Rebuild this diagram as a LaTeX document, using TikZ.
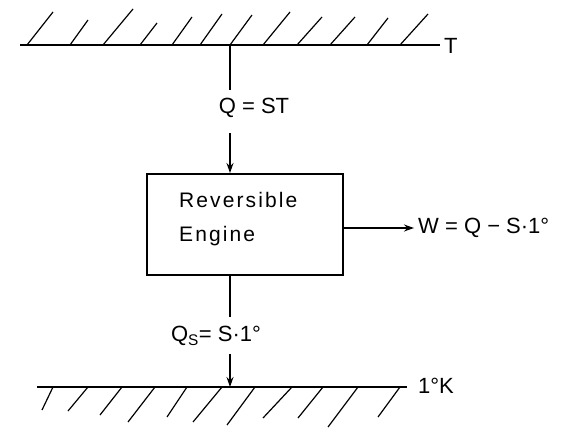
\documentclass[tikz,border=0pt]{standalone}
\usepackage{fontspec}
\setmainfont{Liberation Sans}
\usetikzlibrary{arrows.meta}
\begin{document}
\begin{tikzpicture}[x=1pt,y=-1pt,
  wire/.style={line width=1.6pt},
  hatch/.style={line width=1.2pt},
  arr/.style={line width=1.4pt,-{Stealth[length=10pt,width=7pt]}},
  lbl/.style={font=\fontsize{22}{26}\selectfont,inner sep=0pt},
  boxlbl/.style={font=\fontsize{21}{26}\selectfont\addfontfeatures{LetterSpace=10},inner sep=0pt}]
\useasboundingbox (0,0) rectangle (561,428);
% top reservoir
\coordinate (tl) at (20,45);
\coordinate (tr) at (440,45);
\draw[wire] (tl) -- (tr);
\node[lbl,anchor=west] (T) at (444,46) {T};
\foreach \bx/\tx/\ty in {27/53/12, 70/88/20, 103/133/9, 140/157/23, 172/192/17, 200/222/14, 230/252/15, 263/290/12, 297/322/17, 330/355/17, 367/388/18, 400/428/14}
  \draw[hatch] (\bx,45) -- (\tx,\ty);
% bottom reservoir
\coordinate (bl) at (37,387);
\coordinate (br) at (407,387);
\draw[wire] (bl) -- (br);
\node[lbl,anchor=west] (K) at (418,386) {1°K};
\foreach \bx/\tx/\ty in {53/42/410, 88/68/411, 122/100/415, 155/128/422, 187/167/417, 222/193/422, 255/227/425, 292/263/418, 323/298/418, 358/328/427, 400/378/417}
  \draw[hatch] (\bx,387) -- (\tx,\ty);
% engine
\node[draw,line width=1.8pt,minimum width=196pt,minimum height=101pt,inner sep=0pt] (eng) at (245,224.5) {};
\node[boxlbl,anchor=west,align=left] (engtxt) at (179,219) {Reversible\\[8pt]Engine};
% top heat flow
\coordinate (top) at (230,45);
\node[lbl] (Q) at (254,108) {Q = ST};
\coordinate (q1) at (230,133);
\draw[wire] (top) -- (230,90);
\draw[arr] (q1) -- (230,173);
% work
\coordinate (w0) at (343,228);
\coordinate (w1) at (414,228);
\draw[arr] (w0) -- (w1);
\node[lbl,anchor=west] (W) at (418,228) {W = Q − S·1°};
% bottom heat flow
\draw[wire] (230,275) -- (230,317);
\node[lbl] (Qs) at (216,336) {Q$_{\mathrm{S}}$= S·1°};
\coordinate (s1) at (230,354);
\draw[arr] (s1) -- (230,387);
\end{tikzpicture}
\end{document}
